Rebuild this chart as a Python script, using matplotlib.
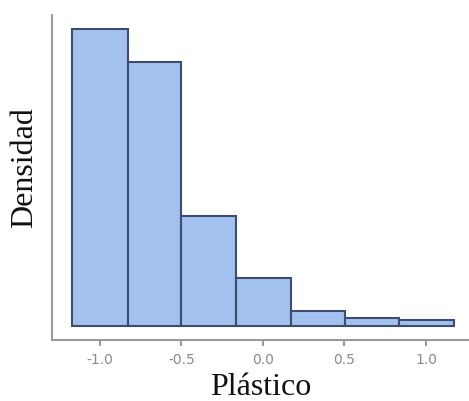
import matplotlib
matplotlib.use("Agg")
import matplotlib.pyplot as plt
import numpy as np

# Data
bin_edges = [-1.174, -0.828, -0.5, -0.163, 0.172, 0.505, 0.837, 1.172]
densities = [1.19, 1.06, 0.443, 0.191, 0.060, 0.033, 0.024]
xticks = [-1.0, -0.5, 0.0, 0.5, 1.0]
xtick_labels = ["-1.0", "-0.5", "0.0", "0.5", "1.0"]

fig = plt.figure(figsize=(4.69, 4.01), dpi=100)
ax = fig.add_axes([0.111, 0.152, 0.889, 0.811])

lefts = np.array(bin_edges[:-1])
widths = np.diff(bin_edges)
ax.bar(lefts, densities, width=widths, align="edge",
       color="#A3C1EF", edgecolor="#3E4D6E", linewidth=1.5)

k = 1.19 / 296.7
ax.set_ylim(-14 * k, 311 * k)
ax.set_xlim(-1.294, 1.264)

for s in ["top", "right"]:
    ax.spines[s].set_visible(False)
for s in ["left", "bottom"]:
    ax.spines[s].set_color("#9a9a9a")
    ax.spines[s].set_linewidth(1.5)

ax.set_yticks([])
ax.set_xticks(xticks)
ax.set_xticklabels(xtick_labels, fontsize=10, color="#8a8a8a", family="DejaVu Sans")
ax.tick_params(axis="x", length=4, width=1.5, color="#9a9a9a", pad=5)

ax.set_xlabel("Plástico", family="Liberation Serif", fontsize=23, color="#111111", labelpad=5)
ax.set_ylabel("Densidad", family="Liberation Serif", fontsize=23, color="#111111")
ax.yaxis.set_label_coords(-0.032, 0.53)

fig.savefig("out.png", dpi=100)
